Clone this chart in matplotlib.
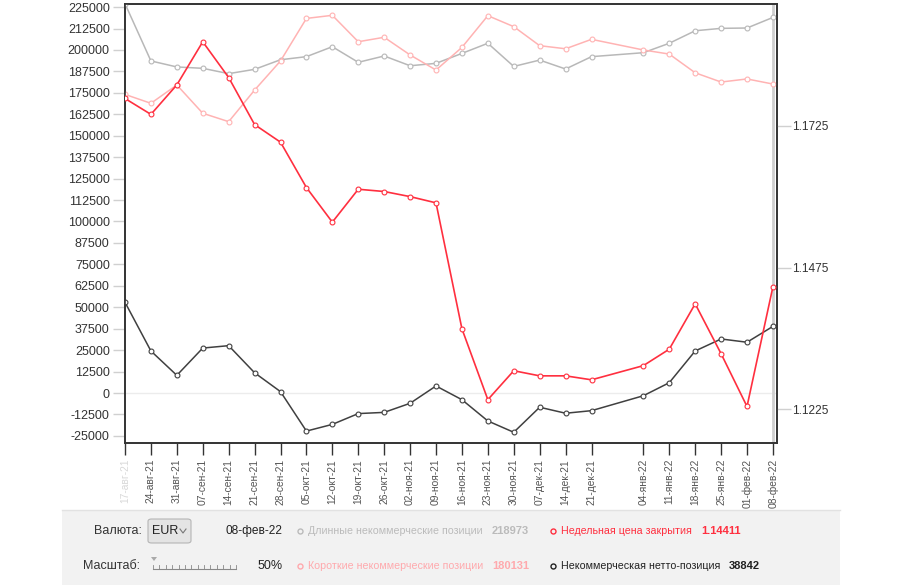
import matplotlib.pyplot as plt
import matplotlib.dates as mdates
from matplotlib.patches import Rectangle, FancyBboxPatch, Polygon
from matplotlib.lines import Line2D
import numpy as np
from datetime import datetime

plt.rcParams['font.family'] = ['Liberation Sans', 'DejaVu Sans']

# weekly COT report dates (28 Dec is missing in the source)
dates = ['2021-08-17', '2021-08-24', '2021-08-31', '2021-09-07', '2021-09-14',
         '2021-09-21', '2021-09-28', '2021-10-05', '2021-10-12', '2021-10-19',
         '2021-10-26', '2021-11-02', '2021-11-09', '2021-11-16', '2021-11-23',
         '2021-11-30', '2021-12-07', '2021-12-14', '2021-12-21', '2022-01-04',
         '2022-01-11', '2022-01-18', '2022-01-25', '2022-02-01', '2022-02-08']
date_labels = ['17-авг-21', '24-авг-21', '31-авг-21', '07-сен-21', '14-сен-21',
               '21-сен-21', '28-сен-21', '05-окт-21', '12-окт-21', '19-окт-21',
               '26-окт-21', '02-ноя-21', '09-ноя-21', '16-ноя-21', '23-ноя-21',
               '30-ноя-21', '07-дек-21', '14-дек-21', '21-дек-21', '04-янв-22',
               '11-янв-22', '18-янв-22', '25-янв-22', '01-фев-22', '08-фев-22']

long_pos = [227000, 193600, 190100, 189300, 186200, 188700, 194300, 196100, 201900,
            192800, 196500, 190800, 192200, 198000, 203900, 190400, 194100, 188900,
            196100, 198400, 203900, 211200, 212600, 212800, 218973]
short_pos = [174100, 168900, 179600, 163100, 158200, 176600, 193600, 218400, 220200,
             204800, 207400, 197100, 188300, 201500, 220000, 213600, 202500, 200700,
             206200, 200000, 197600, 186700, 181300, 183100, 180131]
net_pos = [52900, 24500, 10300, 26200, 27600, 11800, 800, -22200, -18300, -12000,
           -11300, -6000, 4100, -3900, -16300, -22900, -8300, -11800, -10300, -1600,
           6000, 24500, 31500, 29600, 38842]
close_price = [1.1773, 1.1745, 1.1797, 1.1873, 1.1810, 1.1727, 1.1696, 1.1616, 1.1555,
               1.1613, 1.1609, 1.1600, 1.1589, 1.1367, 1.1242, 1.1293, 1.1284, 1.1284,
               1.1277, 1.1302, 1.1331, 1.1411, 1.1323, 1.1230, 1.14411]

left_ticks = list(range(-25000, 225001, 12500))
price_ticks = [1.1225, 1.1475, 1.1725]

W, H = 900, 585


def fx(px):
    return px / W


def fy(py):
    return 1 - py / H


fig = plt.figure(figsize=(9, 5.85), dpi=100)
ax = fig.add_axes([fx(125), fy(443), fx(777) - fx(125), fy(4) - fy(443)])
ax2 = ax.twinx()

x = [datetime.strptime(d, '%Y-%m-%d') for d in dates]
xn = mdates.date2num(x)

mk = dict(marker='o', markersize=3.5, markerfacecolor='white', markeredgewidth=0.8)
ax.axhline(0, color='#ececec', lw=1, zorder=0)
ax.axvline(xn[-1], color='#cfcfcf', lw=2, zorder=1)
ax.plot(xn, long_pos, color='#b8b8b8', lw=1.1, zorder=3, **mk)
ax.plot(xn, short_pos, color='#ffb3b3', lw=1.1, zorder=3, **mk)
ax.plot(xn, net_pos, color='#404040', lw=1.1, zorder=4, **mk)
ax2.plot(xn, close_price, color='#ff2f3f', lw=1.2, zorder=5, **mk)

ax.set_xlim(xn[0], xn[-1] + 1.1)
ax.set_ylim(-29150, 226800)
ax2.set_ylim(1.11656, 1.19396)

ax.set_yticks(left_ticks)
ax.set_yticklabels([str(v) for v in left_ticks])
ax.tick_params(axis='y', length=9, width=1, color='#d0d0d0', labelcolor='#333333',
               labelsize=9, pad=2)
ax.set_xticks(xn)
ax.set_xticklabels(date_labels, rotation=90, fontsize=7.4, color='#555555')
ax.get_xticklabels()[0].set_color('#d8d8d8')
ax.tick_params(axis='x', length=8.5, width=1, color='#333333', pad=3)

ax2.set_yticks(price_ticks)
ax2.set_yticklabels([f'{v:.4f}' for v in price_ticks])
ax2.tick_params(axis='y', length=10, width=1, color='#d0d0d0', labelcolor='#333333',
                labelsize=8.6, pad=1)

for a in (ax, ax2):
    for s in a.spines.values():
        s.set_color('#333333')
        s.set_linewidth(1.2)

# control panel under the chart
fig.add_artist(Rectangle((fx(62), fy(585)), fx(840) - fx(62), fy(510) - fy(585),
                         transform=fig.transFigure, facecolor='#f2f2f2',
                         edgecolor='none'))
fig.add_artist(Line2D([fx(62), fx(840)], [fy(510), fy(510)], color='#e2e2e2', lw=1))

r1, r2 = 531, 566
fig.text(fx(142), fy(r1), 'Валюта:', ha='right', va='center', fontsize=9, color='#333333')
fig.add_artist(FancyBboxPatch((fx(148), fy(543)), fx(191) - fx(148), fy(519) - fy(543),
                              boxstyle='round,pad=0,rounding_size=0.004',
                              transform=fig.transFigure, facecolor='#e4e4e4',
                              edgecolor='#b5b5b5', lw=0.8))
fig.text(fx(152), fy(r1), 'EUR', ha='left', va='center', fontsize=9, color='#222222')
fig.add_artist(Line2D([fx(180), fx(183), fx(186)], [fy(529), fy(533), fy(529)],
                      color='#777777', lw=0.8))
fig.text(fx(283), fy(r1), '08-фев-22', ha='right', va='center', fontsize=8.6,
         color='#222222')

fig.text(fx(140), fy(r2), 'Масштаб:', ha='right', va='center', fontsize=9, color='#333333')
fig.add_artist(Line2D([fx(153), fx(236)], [fy(569), fy(569)], color='#888888', lw=0.8))
for t in np.linspace(153, 236, 14):
    fig.add_artist(Line2D([fx(t), fx(t)], [fy(569), fy(565)], color='#888888', lw=0.6))
fig.add_artist(Polygon([[fx(151), fy(557)], [fx(157), fy(557)], [fx(154), fy(561)]],
                       closed=True, transform=fig.transFigure, facecolor='#aaaaaa',
                       edgecolor='none'))
fig.text(fx(283), fy(r2), '50%', ha='right', va='center', fontsize=9, color='#222222')

legend_rows = [
    (300, r1, '#bbbbbb', 'Длинные некоммерческие позиции', '218973', 492),
    (553, r1, '#ff2f3f', 'Недельная цена закрытия', '1.14411', 701),
    (300, r2, '#ffa9ad', 'Короткие некоммерческие позиции', '180131', 492),
    (553, r2, '#222222', 'Некоммерческая нетто-позиция', '38842', 729),
]
for cx, cy, col, label, val, vx in legend_rows:
    fig.add_artist(Line2D([fx(cx)], [fy(cy)], marker='o', markersize=3.6,
                          markerfacecolor='none', markeredgecolor=col,
                          markeredgewidth=1))
    fig.text(fx(cx + 8), fy(cy), label, ha='left', va='center', fontsize=7.7, color=col)
    fig.text(fx(vx), fy(cy), val, ha='left', va='center', fontsize=8, color=col,
             fontweight='bold')

fig.savefig('out.png', dpi=100)
